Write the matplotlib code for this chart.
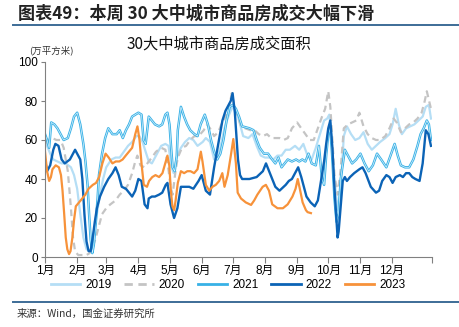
import matplotlib
matplotlib.use("Agg")
import matplotlib.pyplot as plt
from matplotlib.lines import Line2D

# day-of-year positions and values (万平方米)
days_2019 = [0, 2, 5, 8, 12, 16, 20, 25, 28, 31,
             34, 37, 40, 44, 47, 50, 53, 56, 59, 64,
             68, 72, 76, 80, 84, 88, 91, 94, 97, 100,
             103, 108, 112, 116, 119, 122, 124, 127, 131, 135,
             139, 143, 147, 152, 155, 159, 163, 166, 169, 173,
             176, 179, 182, 185, 188, 191, 196, 200, 204, 208,
             212, 216, 220, 224, 228, 232, 236, 241, 245, 249,
             253, 257, 261, 265, 269, 272, 274, 276, 278, 282,
             285, 288, 291, 295, 299, 303, 307, 311, 315, 319,
             323, 328, 332, 335, 338, 341, 344, 348, 352, 356,
             360, 364, 367, 370, 372]
vals_2019 = [60, 57, 53, 50, 49, 48, 48, 46, 42, 35,
             22, 10, 4, 3, 12, 22, 32, 40, 46, 50,
             51, 51, 54, 57, 59, 62, 62, 59, 54, 49,
             48, 53, 57, 58, 57, 46, 43, 51, 56, 59,
             61, 60, 57, 59, 61, 59, 50, 51, 56, 66,
             71, 75, 78, 74, 68, 62, 61, 63, 57, 52,
             51, 51, 50, 52, 52, 55, 55, 57, 55, 58,
             52, 50, 56, 63, 70, 71, 73, 62, 45, 24,
             35, 62, 67, 63, 60, 61, 64, 58, 55, 57,
             59, 61, 63, 68, 76, 68, 63, 66, 67, 68,
             70, 72, 77, 78, 71]

days_2020 = [0, 3, 7, 11, 15, 18, 22, 25, 27, 29,
             32, 36, 40, 43, 46, 49, 52, 55, 59, 63,
             68, 72, 76, 80, 84, 87, 89, 92, 96, 100,
             103, 107, 112, 116, 119, 121, 123, 126, 128, 132,
             136, 140, 144, 148, 153, 156, 159, 163, 167, 170,
             174, 177, 180, 183, 186, 189, 193, 198, 202, 206,
             210, 214, 218, 222, 226, 230, 234, 238, 243, 247,
             251, 255, 259, 263, 267, 270, 273, 275, 277, 279,
             282, 285, 288, 292, 296, 300, 303, 307, 311, 315,
             319, 323, 328, 332, 336, 339, 343, 347, 351, 355,
             359, 363, 366, 368, 372]
vals_2020 = [58, 60, 61, 60, 60, 56, 44, 25, 10, 3,
             1, 1, 1, 2, 5, 10, 16, 22, 25, 27,
             29, 32, 34, 37, 43, 49, 52, 47, 46, 49,
             51, 54, 56, 55, 45, 36, 32, 45, 51, 56,
             57, 60, 62, 62, 65, 68, 66, 62, 64, 68,
             72, 75, 84, 76, 72, 67, 66, 65, 65, 63,
             62, 63, 61, 61, 61, 60, 61, 66, 69, 66,
             63, 60, 60, 66, 72, 76, 85, 77, 60, 42,
             32, 45, 66, 68, 69, 70, 74, 67, 63, 61,
             60, 60, 62, 66, 71, 69, 64, 66, 68, 69,
             71, 74, 80, 85, 76]

days_2021 = [0, 2, 4, 6, 9, 12, 15, 18, 22, 25,
             28, 31, 34, 37, 39, 41, 42.5, 44, 45.6, 47,
             49, 50.7, 52, 55, 58, 61, 65, 69, 72, 75,
             78, 81, 84, 87, 90, 93, 95, 97, 100, 103,
             106, 110, 113, 116, 118, 120, 121.3, 123, 125, 127,
             128, 131, 134, 137, 140, 144, 147, 150, 154, 157,
             160, 163, 166, 169, 172, 175, 178, 181, 184, 187,
             190, 197, 201, 204, 207, 211, 215, 219, 222, 225,
             228, 231, 234, 238, 242, 245, 248, 251, 254, 257,
             261, 264, 267, 269, 271, 273, 275, 277, 279, 281,
             283, 285, 289, 292, 296, 300, 304, 308, 312, 316,
             320, 324, 329, 333, 337, 340, 343, 347, 351, 355,
             359, 362, 365, 368, 370, 372]
vals_2021 = [63, 60, 56, 69, 68, 66, 63, 60, 61, 66,
             72, 74, 68, 58, 49, 37, 22, 9, 2, 6,
             18, 30, 42, 53, 61, 66, 63, 63, 65, 61,
             65, 68, 72, 73, 74, 73, 60, 58, 72, 70,
             68, 67, 68, 73, 74, 68, 58, 46, 44, 52,
             65, 77, 72, 68, 65, 63, 62, 68, 73, 68,
             60, 54, 50, 53, 60, 70, 77, 78, 76, 72,
             67, 66, 65, 60, 56, 53, 53, 50, 48, 51,
             46, 48, 50, 49, 50, 49, 50, 49, 53, 48,
             47, 57, 40, 37, 52, 63, 66, 50, 30, 18,
             22, 40, 55, 52, 48, 50, 53, 48, 44, 47,
             53, 50, 46, 52, 58, 52, 47, 46, 46, 50,
             57, 63, 66, 70, 68, 60]

days_2022 = [0, 2, 5, 8, 10, 13, 16, 19, 24, 27,
             29, 32, 34, 36, 38, 40, 42, 44, 46, 48,
             50, 53, 57, 61, 65, 68, 71, 74, 78, 81,
             84, 87, 90, 93, 96, 98.8, 100, 103, 106, 110,
             113, 116.4, 118, 121, 124.4, 127.6, 131, 134, 139, 143,
             148, 151, 155, 159, 163, 168, 171, 174, 177, 179,
             180.8, 183, 186, 188, 190, 197, 204, 210, 213, 216,
             222, 226, 232, 235, 238, 244, 247, 252, 256, 260,
             263, 266, 269, 271, 273, 275, 277, 279, 282, 283,
             285, 287, 289, 291, 294, 298, 303, 306, 309, 314,
             319, 322, 325, 329, 332, 335, 338, 342, 345, 348,
             351, 354, 357, 361, 364, 367, 369.5, 372]
vals_2022 = [50, 44, 47, 55, 58, 57, 50, 48, 50, 53,
             55, 52, 50, 40, 22, 8, 3, 3, 10, 18,
             25, 31, 36, 40, 43, 46, 42, 36, 35, 33,
             31, 34, 40, 39, 27, 25, 30, 31, 31, 32,
             33, 37, 38, 27, 20, 25, 36, 36, 36, 35,
             39, 42, 34, 32, 46, 61, 70, 75, 78, 80,
             84, 74, 50, 42, 40, 40, 41, 44, 48, 44,
             36, 34, 37, 39, 40, 46, 41, 31, 28, 26,
             29, 39, 49, 58, 66, 70, 56, 35, 10, 13,
             26, 39, 41, 39, 41, 43, 45, 46, 43, 36,
             33, 34, 39, 42, 41, 38, 41, 42, 41, 43,
             43, 41, 40, 39, 48, 65, 63, 57]

days_2023 = [0, 2, 4, 5.7, 7.2, 10.3, 13.4, 15.4, 16.9, 18.5,
             20, 21.5, 23.2, 24.6, 26.4, 28, 29.7, 32.8, 35.9, 38.9,
             42, 46.1, 49.2, 52.2, 55.3, 58.4, 61.4, 65, 68.2, 71.7,
             74.8, 77.8, 80.9, 84, 87, 89.1, 91.1, 93.2, 95.2, 98.3,
             100.3, 103.4, 106.5, 110, 113.2, 116.4, 118, 119.8, 121.3, 122.8,
             124.5, 125.9, 128, 131, 134.1, 137.2, 140.2, 143.7, 147, 148.4,
             150.2, 151.8, 155, 158.3, 161.4, 164.6, 167.9, 170.9, 173, 176.1,
             179.1, 181.5, 184, 185.7, 188.9, 193.5, 198.6, 201.6, 204.7, 209.8,
             212.9, 215.9, 219, 224.1, 229.3, 233.9, 238.5, 241.5, 243.6, 245.6,
             248.3, 251.5, 253.1, 256.3]
vals_2023 = [54, 44, 39, 41, 45, 47, 46, 42, 34, 22,
             10, 4, 1.5, 3, 10, 19, 26, 28, 30, 32,
             35, 37, 38, 41, 48, 53, 51, 48, 49, 49,
             50, 52, 54, 56, 63, 67, 60, 47, 37, 36,
             39, 41, 42, 41, 43, 49, 52, 47, 34, 26,
             24, 29, 38, 44, 43, 44, 44, 43, 45, 49,
             54, 49, 37, 34, 36, 37, 39, 43, 36, 42,
             52, 60.5, 48, 33, 30, 28, 26.7, 29, 32, 36,
             37, 34, 27, 25, 25, 27, 31, 35, 40, 35,
             28, 24, 23, 22.5]

month_starts = [0, 31, 59, 90, 120, 151, 181, 212, 243, 273, 304, 334]
month_labels = [f"{m}月" for m in range(1, 13)]
y_ticks = [0, 20, 40, 60, 80, 100]

c19, c20, c21, c22, c23 = "#B5DEF5", "#C4C4C4", "#38B1E6", "#0B63B6", "#F7923A"
cjk = ["Noto Sans CJK SC", "DejaVu Sans"]
num = ["Liberation Sans", "Noto Sans CJK SC"]

fig = plt.figure(figsize=(4.6, 3.27), dpi=100)
W, H = 460, 327

# header and rules
fig.text(18 / W, 1 - 14 / H, "图表49：本周 30 大中城市商品房成交大幅下滑",
         family=cjk, fontsize=12.3, fontweight="bold", color="#222222",
         va="center", ha="left")
fig.add_artist(Line2D([13 / W, 1], [1 - 24.5 / H] * 2, color="#3D6C97", lw=1.4))
fig.add_artist(Line2D([13 / W, 1], [1 - 302 / H] * 2, color="#3D6C97", lw=1.4))
fig.text(17 / W, 1 - 314 / H, "来源：Wind，国金证券研究所", family=cjk,
         fontsize=7.5, color="#333333", va="center", ha="left")

fig.text(219 / W, 1 - 44 / H, "30大中城市商品房成交面积", family=cjk,
         fontsize=11, color="#111111", va="center", ha="center")
fig.text(29 / W, 1 - 50 / H, "(万平方米)", family=cjk, fontsize=6.8,
         color="#333333", va="center", ha="left")

ax = fig.add_axes([45 / W, 1 - 257 / H, (432 - 45) / W, (257 - 62) / H])

ax.plot(days_2019, vals_2019, color=c19, lw=1.6, label="2019")
ax.plot(days_2020, vals_2020, color=c20, lw=1.6, ls=(0, (3, 2)), label="2020")
ax.plot(days_2021, vals_2021, color=c21, lw=1.8, label="2021")
ax.plot(days_2021, vals_2021, color="#DDF2FC", lw=0.5)
ax.plot(days_2022, vals_2022, color=c22, lw=1.7, label="2022")
ax.plot(days_2023, vals_2023, color=c23, lw=1.6, label="2023")

ax.set_xlim(0, 373)
ax.set_ylim(0, 100)
ax.set_xticks(month_starts)
ax.set_xticklabels(month_labels, family=num, fontsize=8.5)
ax.set_xticks([373], minor=True)
ax.set_yticks(y_ticks)
ax.set_yticklabels([str(v) for v in y_ticks], family=num, fontsize=8.5)
ax.tick_params(axis="x", which="both", length=4, width=0.8, color="#808080", pad=2)
ax.tick_params(axis="y", length=3, width=0.8, color="#808080", pad=2)
for s in ["top", "right"]:
    ax.spines[s].set_visible(False)
for s in ["left", "bottom"]:
    ax.spines[s].set_color("#808080")
    ax.spines[s].set_linewidth(0.8)

handles = [Line2D([], [], color=c19, lw=2),
           Line2D([], [], color=c20, lw=2, ls=(0, (3, 2))),
           Line2D([], [], color=c21, lw=2),
           Line2D([], [], color=c22, lw=2),
           Line2D([], [], color=c23, lw=2)]
fig.legend(handles, ["2019", "2020", "2021", "2022", "2023"], ncol=5,
           loc="center", bbox_to_anchor=(228 / W, 1 - 285 / H), frameon=False,
           prop={"family": num, "size": 8.5}, handlelength=2.5,
           handletextpad=0.4, columnspacing=1.1)

fig.savefig("out.png", dpi=100)
